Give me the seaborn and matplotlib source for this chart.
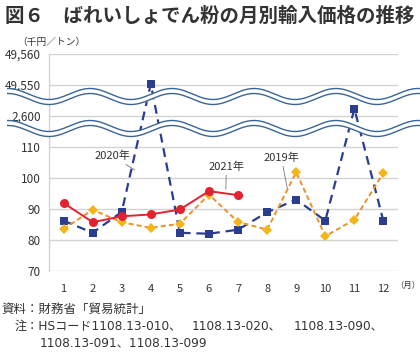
import numpy as np
import pandas as pd
import matplotlib
matplotlib.use("Agg")
import matplotlib.pyplot as plt
import seaborn as sns

# ---- data ----
months = [1, 2, 3, 4, 5, 6, 7, 8, 9, 10, 11, 12]
price_2019 = [83.5, 89.7, 85.7, 83.9, 85.2, 94.6, 85.8, 83.3, 101.8, 81.2, 86.5, 101.6]
price_2020 = [86.2, 82.3, 89.0, 49550.2, 82.3, 82.0, 83.3, 88.9, 93.0, 86.2, 2602.2, 86.0]
price_2021_months = [1, 2, 3, 4, 5, 6, 7]
price_2021 = [91.9, 85.7, 87.6, 88.2, 89.8, 95.7, 94.4]
ytick_values = [70, 80, 90, 100, 110, 2600, 49550, 49560]
xtick_labels = [str(m) for m in months]

title = "図６　ばれいしょでん粉の月別輸入価格の推移"
unit_label = "（千円／トン）"
month_unit = "（月）"
source_note = "資料：財務省「貿易統計」"
note_prefix = "注：HSコード"
note_codes_line1 = ["1108.13-010、", "1108.13-020、", "1108.13-090、"]
note_line2 = "1108.13-091、1108.13-099"

sns.set_theme(style="white")
plt.rcParams["font.family"] = ["Noto Sans CJK JP", "DejaVu Sans"]
LATIN_FIRST = ["DejaVu Sans", "Noto Sans CJK JP"]

# ---- broken-axis scale ----
def fwd(y):
    y = np.asarray(y, dtype=float)
    return np.where(y <= 113, y,
           np.where(y < 2597, 113 + (y - 113) * 4.0 / (2597 - 113),
           np.where(y <= 2603, 120 + (y - 2600),
           np.where(y < 49547, 123 + (y - 2603) * 4.0 / (49547 - 2603),
                    130 + (y - 49550)))))

def inv(p):
    p = np.asarray(p, dtype=float)
    return np.where(p <= 113, p,
           np.where(p < 117, 113 + (p - 113) * (2597 - 113) / 4.0,
           np.where(p <= 123, 2600 + (p - 120),
           np.where(p < 127, 2603 + (p - 123) * (49547 - 2603) / 4.0,
                    49550 + (p - 130)))))

W, H = 420, 354
fig = plt.figure(figsize=(W / 100, H / 100), dpi=100)
ax = fig.add_axes([49 / W, 1 - 271 / H, 349 / W, 217.5 / H])
ax.set_yscale("function", functions=(fwd, inv))

BLUE = "#2b3d91"
ORANGE_LINE = "#e8922c"
ORANGE_MK = "#f4b51a"
RED = "#e2232f"

sns.lineplot(x=months, y=price_2020, ax=ax, color=BLUE, marker="s", markersize=5.8,
             markeredgewidth=0, linewidth=1.6, zorder=3)
l20 = ax.lines[-1]
l20.set_dashes([4, 2.6])

sns.lineplot(x=months, y=price_2019, ax=ax, color=ORANGE_LINE, marker="D", markersize=5.2,
             markerfacecolor=ORANGE_MK, markeredgecolor=ORANGE_MK, markeredgewidth=0,
             linewidth=1.4, zorder=4)
l19 = ax.lines[-1]
l19.set_dashes([2.6, 1.6])

sns.lineplot(x=price_2021_months, y=price_2021, ax=ax, color=RED, marker="o", markersize=6.5,
             markeredgewidth=0, linewidth=1.4, zorder=5)

ax.set_xlim(0.5, 12.5)
ax.set_ylim(70, 49560)
ax.set_xticks(months)
ax.set_xticklabels(xtick_labels, fontsize=8, color="#333333")
ax.set_yticks(ytick_values)
ax.set_yticklabels([f"{v:,}" for v in ytick_values], fontsize=8.5, color="#333333")
ax.yaxis.set_minor_locator(matplotlib.ticker.NullLocator())
ax.tick_params(axis="both", length=0)
ax.tick_params(axis="x", pad=9)
ax.tick_params(axis="y", pad=6)
ax.set_xlabel("")
ax.set_ylabel("")
ax.grid(axis="y", color="#d3d3d3", linewidth=1.0)
for s in ["top", "right", "bottom"]:
    ax.spines[s].set_visible(False)
ax.spines["left"].set_color("#d3d3d3")
ax.spines["left"].set_linewidth(1.0)

ann = dict(arrowstyle="-", color="#777777", lw=0.6, shrinkA=0, shrinkB=0)
ax.annotate("2020年", xy=(3.45, 102.5), xytext=(2.68, 107.0), fontsize=8, color="#333333",
            ha="center", va="center", arrowprops=ann)
ax.annotate("2021年", xy=(6.58, 96.3), xytext=(6.6, 103.5), fontsize=8, color="#333333",
            ha="center", va="center", arrowprops=ann)
ax.annotate("2019年", xy=(8.7, 96.3), xytext=(8.49, 106.4), fontsize=8, color="#333333",
            ha="center", va="center", arrowprops=ann)

# ---- overlay for break marks and texts (pixel coordinates) ----
ov = fig.add_axes([0, 0, 1, 1], zorder=10)
ov.set_xlim(0, W)
ov.set_ylim(H, 0)
ov.axis("off")
ov.patch.set_alpha(0)

xs = np.linspace(7, W, 600)
WAVE = "#3a6594"
for c in (94.0, 126.0):
    y1 = c - 5.5 * np.cos(2 * np.pi * (xs - 90) / 82.0)
    y2 = y1 + 5.0
    ov.fill_between(xs, y1, y2, color="white", linewidth=0)
    ov.plot(xs, y1, color=WAVE, linewidth=1.0, solid_capstyle="butt")
    ov.plot(xs, y2, color=WAVE, linewidth=1.0, solid_capstyle="butt")

TXT = "#333333"
ov.text(5, 16, title, fontsize=14, fontweight="bold", color=TXT, va="center", ha="left")
ov.text(17, 42, unit_label, fontsize=7, color=TXT, va="center", ha="left")
ov.text(395, 285, month_unit, fontsize=6, color=TXT, va="center", ha="left")
ov.text(1, 309, source_note, fontsize=9, color=TXT, va="center", ha="left")
ov.text(15, 326, note_prefix + note_codes_line1[0], fontsize=8.7, color=TXT,
        va="center", ha="left", family=LATIN_FIRST)
ov.text(192, 326, note_codes_line1[1], fontsize=8.7, color=TXT,
        va="center", ha="left", family=LATIN_FIRST)
ov.text(294, 326, note_codes_line1[2], fontsize=8.7, color=TXT,
        va="center", ha="left", family=LATIN_FIRST)
ov.text(40, 343, note_line2, fontsize=8.7, color=TXT, va="center", ha="left",
        family=LATIN_FIRST)

fig.savefig("out.png", dpi=100, facecolor="white")
